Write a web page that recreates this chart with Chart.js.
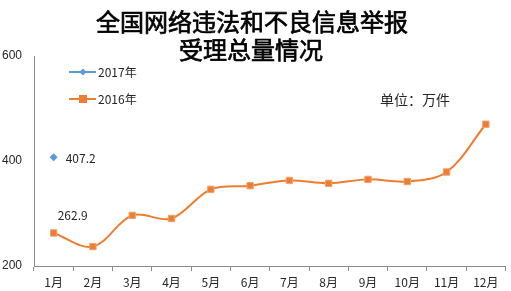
<!DOCTYPE html>
<html>
<head>
<meta charset="utf-8">
<script src="https://cdn.jsdelivr.net/npm/chart.js@4"></script>
<style>
  html,body{margin:0;padding:0;background:#fff;}
  #wrap{width:511px;height:291px;position:relative;}
</style>
</head>
<body>
<div id="wrap"><canvas id="c" width="511" height="291"></canvas></div>
<script>
// 数据
const months = ["1月","2月","3月","4月","5月","6月","7月","8月","9月","10月","11月","12月"];
const vals2016 = [262.9, 237, 296.5, 290.5, 346, 353, 363, 357.5, 365, 361, 379, 470];
const vals2017 = [407.2, null, null, null, null, null, null, null, null, null, null, null];
const yTicks = [200, 400, 600];
const titleLines = ["全国网络违法和不良信息举报", "受理总量情况"];

const ORANGE = "#ED7D31", BLUE = "#5B9BD5", AXIS = "#8c8c8c", TXT = "#262626";
const CJK = '"Noto Sans CJK SC", "Noto Sans", sans-serif';

// 标题、图例、数据标签
const overlay = {
  id: "overlay",
  afterDraw(chart){
    const ctx = chart.ctx;
    ctx.save();
    ctx.fillStyle = "#000";
    ctx.strokeStyle = "#000";
    ctx.lineWidth = 0.7;
    ctx.font = "24px " + CJK;
    ctx.textAlign = "center"; ctx.textBaseline = "middle";
    titleLines.forEach((t, i) => {
      const y = i ? 50 : 22, x = i ? 251 : 252;
      ctx.fillText(t, x, y);
      ctx.strokeText(t, x, y);
    });

    // 图例
    ctx.textAlign = "left";
    ctx.font = "12px " + CJK;
    ctx.lineWidth = 2;
    ctx.strokeStyle = BLUE;
    ctx.beginPath(); ctx.moveTo(69, 72); ctx.lineTo(96, 72); ctx.stroke();
    ctx.fillStyle = BLUE;
    ctx.beginPath(); ctx.moveTo(83, 68.5); ctx.lineTo(86.5, 72); ctx.lineTo(83, 75.5); ctx.lineTo(79.5, 72); ctx.closePath(); ctx.fill();
    ctx.fillStyle = TXT;
    ctx.fillText("2017年", 98, 72);

    ctx.strokeStyle = ORANGE;
    ctx.beginPath(); ctx.moveTo(69, 99); ctx.lineTo(96, 99); ctx.stroke();
    ctx.fillStyle = ORANGE;
    ctx.fillRect(79, 95, 8, 8);
    ctx.fillStyle = TXT;
    ctx.fillText("2016年", 98, 99);

    ctx.font = "14px " + CJK;
    ctx.fillText("单位：万件", 380, 100);

    // 数据标签
    ctx.font = "12px " + CJK;
    const p17 = chart.getDatasetMeta(0).data[0];
    ctx.fillText(String(vals2017[0]), p17.x + 12, p17.y + 1);
    const p16 = chart.getDatasetMeta(1).data[0];
    ctx.fillText(String(vals2016[0]), p16.x + 4, p16.y - 18);
    ctx.restore();
  }
};

new Chart(document.getElementById("c"), {
  type: "line",
  data: {
    labels: months,
    datasets: [
      { label: "2017年", data: vals2017, showLine: false, pointStyle: "rectRot",
        pointRadius: 4, backgroundColor: BLUE, borderColor: BLUE, pointBorderWidth: 0 },
      { label: "2016年", data: vals2016, borderColor: ORANGE, borderWidth: 2, tension: 0.35,
        pointStyle: "rect", pointRadius: 4.5, pointBackgroundColor: ORANGE,
        pointBorderColor: "#F4A26B", pointBorderWidth: 1 }
    ]
  },
  options: {
    responsive: false,
    animation: false,
    layout: { padding: { left: 2, right: 1, top: 56, bottom: 0 } },
    plugins: { legend: { display: false }, title: { display: false }, tooltip: { enabled: false } },
    scales: {
      x: {
        offset: true,
        afterFit(scale){ scale.height = 25; },
        grid: { display: true, offset: true, drawOnChartArea: false, drawTicks: true, tickLength: 5, color: AXIS },
        border: { display: true, color: AXIS, width: 1 },
        ticks: { color: TXT, font: { size: 12, family: CJK, lineHeight: 1 }, padding: 5, maxRotation: 0, autoSkip: false }
      },
      y: {
        min: 200, max: 600,
        afterFit(scale){ scale.width = 32; },
        afterBuildTicks(scale){ scale.ticks = yTicks.map(v => ({ value: v })); },
        grid: { display: false, drawTicks: false },
        border: { display: true, color: AXIS, width: 1 },
        ticks: { color: TXT, font: { size: 12, family: "Arial, 'Liberation Sans', sans-serif" }, padding: 12 }
      }
    }
  },
  plugins: [overlay]
});
</script>
</body>
</html>
